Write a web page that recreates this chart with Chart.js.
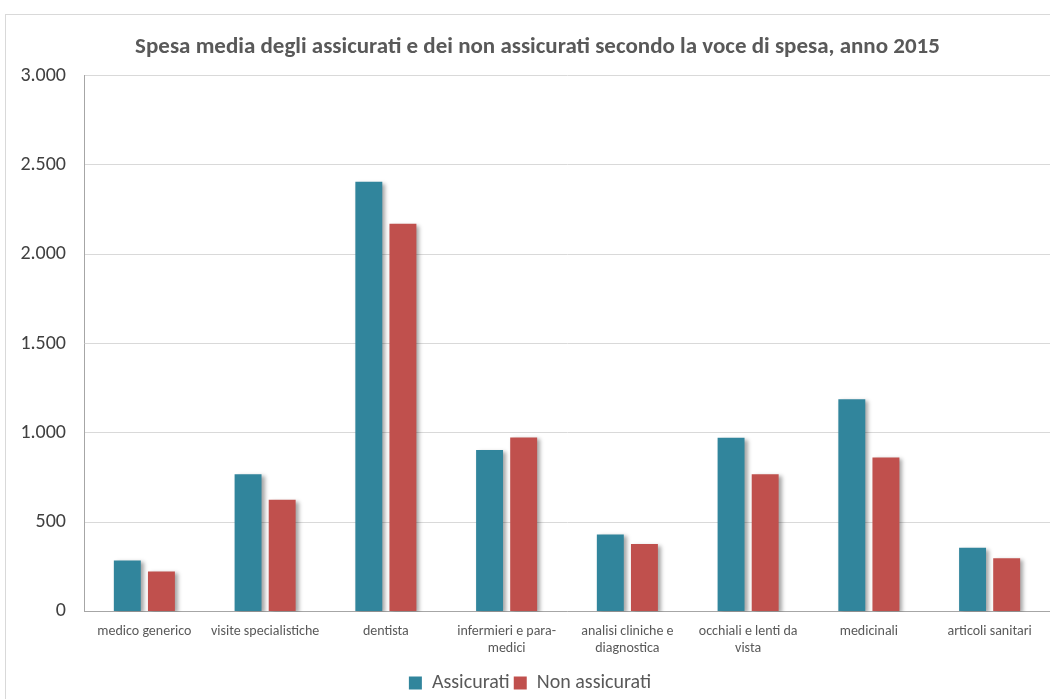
<!DOCTYPE html>
<html>
<head>
<meta charset="utf-8">
<script src="https://cdn.jsdelivr.net/npm/chart.js@4.4.0/dist/chart.umd.min.js"></script>
<style>
  html, body { margin: 0; padding: 0; background: #fff; }
  #frame {
    position: absolute; left: 5px; top: 14px; width: 1100px; height: 720px;
    border: 1px solid #d9d9d9; box-sizing: border-box;
  }
  #wrap { position: absolute; left: 0; top: 0; width: 1050px; height: 699px; }
</style>
</head>
<body>
<div id="frame"></div>
<div id="wrap"><canvas id="chart" width="1050" height="699"></canvas></div>
<script>
var categorie = [
    'medico generico',
    'visite specialistiche',
    'dentista',
    ['infermieri e para-', 'medici'],
    ['analisi cliniche e', 'diagnostica'],
    ['occhiali e lenti da', 'vista'],
    'medicinali',
    'articoli sanitari'
];
var assicurati    = [285, 768, 2406, 903, 431, 972, 1188, 356];
var nonAssicurati = [224, 625, 2171, 974, 377, 768, 862, 297];
var ticksY = [0, 500, 1000, 1500, 2000, 2500, 3000];

var FONT = "Carlito, 'Liberation Sans Narrow', 'Open Sans', sans-serif";

// ombra leggera sotto le barre
var barShadow = {
    id: 'barShadow',
    beforeDatasetsDraw: function (chart) {
        var ctx = chart.ctx;
        ctx.save();
        ctx.shadowColor = 'rgba(0,0,0,0.35)';
        ctx.shadowBlur = 4;
        ctx.shadowOffsetX = 3;
        ctx.shadowOffsetY = 2;
    },
    afterDatasetsDraw: function (chart) {
        chart.ctx.restore();
    }
};

// titolo un po' spostato a destra
var titleShift = {
    id: 'titleShift',
    afterLayout: function (chart) {
        if (chart.titleBlock) chart.titleBlock.left += 15;
    }
};

function migliaia(v) {
    return String(v).replace(/\B(?=(\d{3})+(?!\d))/g, '.');
}

new Chart(document.getElementById('chart'), {
    type: 'bar',
    data: {
        labels: categorie,
        datasets: [{
            label: 'Assicurati',
            data: assicurati,
            backgroundColor: '#31859C',
            barPercentage: 0.79,
            categoryPercentage: 0.565
        }, {
            label: 'Non assicurati',
            data: nonAssicurati,
            backgroundColor: '#C0504D',
            barPercentage: 0.79,
            categoryPercentage: 0.565
        }]
    },
    options: {
        responsive: false,
        animation: false,
        layout: { padding: { left: 10, right: 0, top: 12, bottom: -4 } },
        plugins: {
            title: {
                display: true,
                text: 'Spesa media degli assicurati e dei non assicurati secondo la voce di spesa, anno 2015',
                color: '#595959',
                font: { family: FONT, size: 23, weight: 'bold' },
                padding: { top: 21, bottom: 15 }
            },
            legend: {
                position: 'bottom',
                labels: {
                    color: '#595959',
                    font: { family: FONT, size: 20 },
                    boxWidth: 13,
                    boxHeight: 13,
                    padding: 4
                }
            },
            tooltip: { enabled: false }
        },
        scales: {
            x: {
                grid: { display: false, drawTicks: false },
                border: { color: '#a6a6a6', width: 1 },
                ticks: {
                    color: '#595959',
                    font: { family: FONT, size: 14 },
                    maxRotation: 0,
                    autoSkip: false,
                    padding: 12
                }
            },
            y: {
                min: 0,
                max: 3000,
                afterBuildTicks: function (scale) {
                    scale.ticks = ticksY.map(function (v) { return { value: v }; });
                },
                afterFit: function (scale) { scale.width = 74; },
                grid: { color: '#d9d9d9', drawTicks: false },
                border: { color: '#a6a6a6', width: 1 },
                ticks: {
                    color: '#404040',
                    font: { family: FONT, size: 20 },
                    padding: 18,
                    callback: function (v) { return migliaia(v); }
                }
            }
        }
    },
    plugins: [barShadow, titleShift]
});
</script>
</body>
</html>
